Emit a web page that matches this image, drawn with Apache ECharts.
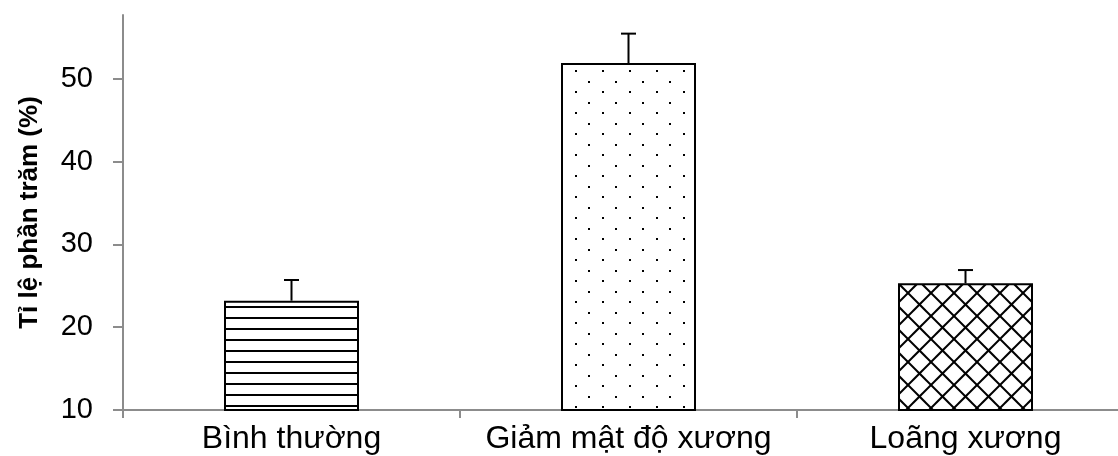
<!DOCTYPE html>
<html>
<head>
<meta charset="utf-8">
<script src="https://cdn.jsdelivr.net/npm/echarts@6/dist/echarts.min.js"></script>
<style>
html,body{margin:0;padding:0;background:#fff;}
#chart{width:1118px;height:456px;}
</style>
</head>
<body>
<div id="chart"></div>
<script>
var categories = ['Bình thường', 'Giảm mật độ xương', 'Loãng xương'];
var values = [23.2, 51.9, 25.3];
var errors = [2.5, 3.55, 1.6];
var yTicks = [10, 20, 30, 40, 50];
var yTitle = 'Tỉ lệ phần trăm (%)';

function makeTile(w, h, draw) {
  var c = document.createElement('canvas');
  c.width = w; c.height = h;
  var ctx = c.getContext('2d');
  ctx.fillStyle = '#fff';
  ctx.fillRect(0, 0, w, h);
  draw(ctx, w, h);
  return c;
}
var stripes = makeTile(11, 11, function (ctx) {
  ctx.fillStyle = '#000';
  ctx.fillRect(0, 9, 11, 2.5);
});
var dots = makeTile(27, 21, function (ctx) {
  ctx.fillStyle = '#000';
  ctx.fillRect(8, 7, 2, 2);
  ctx.fillRect(21, 18, 2, 2);
});
var hatch = makeTile(23, 23, function (ctx, w, h) {
  ctx.strokeStyle = '#000';
  ctx.lineWidth = 2;
  for (var s = -2; s <= 2; s++) {
    var o = s * 23;
    ctx.beginPath();
    ctx.moveTo(-30, -30 + 6 + o); ctx.lineTo(60, 60 + 6 + o);
    ctx.stroke();
    ctx.beginPath();
    ctx.moveTo(-30, 30 + 5 + o); ctx.lineTo(60, -60 + 5 + o);
    ctx.stroke();
  }
});
var fills = [stripes, dots, hatch];

var chart = echarts.init(document.getElementById('chart'), null, {renderer: 'canvas'});
var axisGray = '#8c8c8c';
var option = {
  animation: false,
  backgroundColor: '#fff',
  grid: {left: 123, top: 15, height: 395, width: 1011, containLabel: false, outerBoundsMode: 'none'},
  xAxis: {
    type: 'category',
    data: categories,
    boundaryGap: true,
    axisLine: {show: true, lineStyle: {color: axisGray, width: 2}},
    axisTick: {show: true, alignWithLabel: false, length: 8, lineStyle: {color: axisGray, width: 2}},
    axisLabel: {color: '#000', fontFamily: 'Liberation Sans, Arial, sans-serif', fontSize: 32, margin: 13, interval: 0},
    splitLine: {show: false}
  },
  yAxis: {
    type: 'value',
    min: 10,
    max: 57.7,
    name: yTitle,
    nameLocation: 'middle',
    nameGap: 80,
    nameRotate: 90,
    nameTextStyle: {color: '#000', fontFamily: 'Liberation Sans, Arial, sans-serif', fontSize: 26, fontWeight: 'bold'},
    axisLine: {show: true, lineStyle: {color: axisGray, width: 2}},
    axisTick: {show: true, length: 10, customValues: yTicks, lineStyle: {color: axisGray, width: 2}},
    axisLabel: {color: '#000', fontFamily: 'Liberation Sans, Arial, sans-serif', fontSize: 29, margin: 30, customValues: yTicks},
    splitLine: {show: false}
  },
  series: [
    {
      type: 'bar',
      barWidth: 135,
      data: values.map(function (v, i) {
        return {
          value: v,
          itemStyle: {
            color: {image: fills[i], repeat: 'repeat'},
            borderColor: '#000',
            borderWidth: 2
          }
        };
      }),
      z: 2
    },
    {
      type: 'custom',
      z: 3,
      data: values.map(function (v, i) { return [i, v, v + errors[i]]; }),
      renderItem: function (params, api) {
        var x = api.value(0);
        var p0 = api.coord([x, api.value(1)]);
        var p1 = api.coord([x, api.value(2)]);
        var hw = 7.5;
        return {
          type: 'group',
          children: [
            {type: 'line', shape: {x1: p0[0], y1: p0[1], x2: p1[0], y2: p1[1]}, style: {stroke: '#000', lineWidth: 2}},
            {type: 'line', shape: {x1: p1[0] - hw, y1: p1[1], x2: p1[0] + hw, y2: p1[1]}, style: {stroke: '#000', lineWidth: 2}}
          ]
        };
      }
    }
  ]
};
chart.setOption(option);
</script>
</body>
</html>
